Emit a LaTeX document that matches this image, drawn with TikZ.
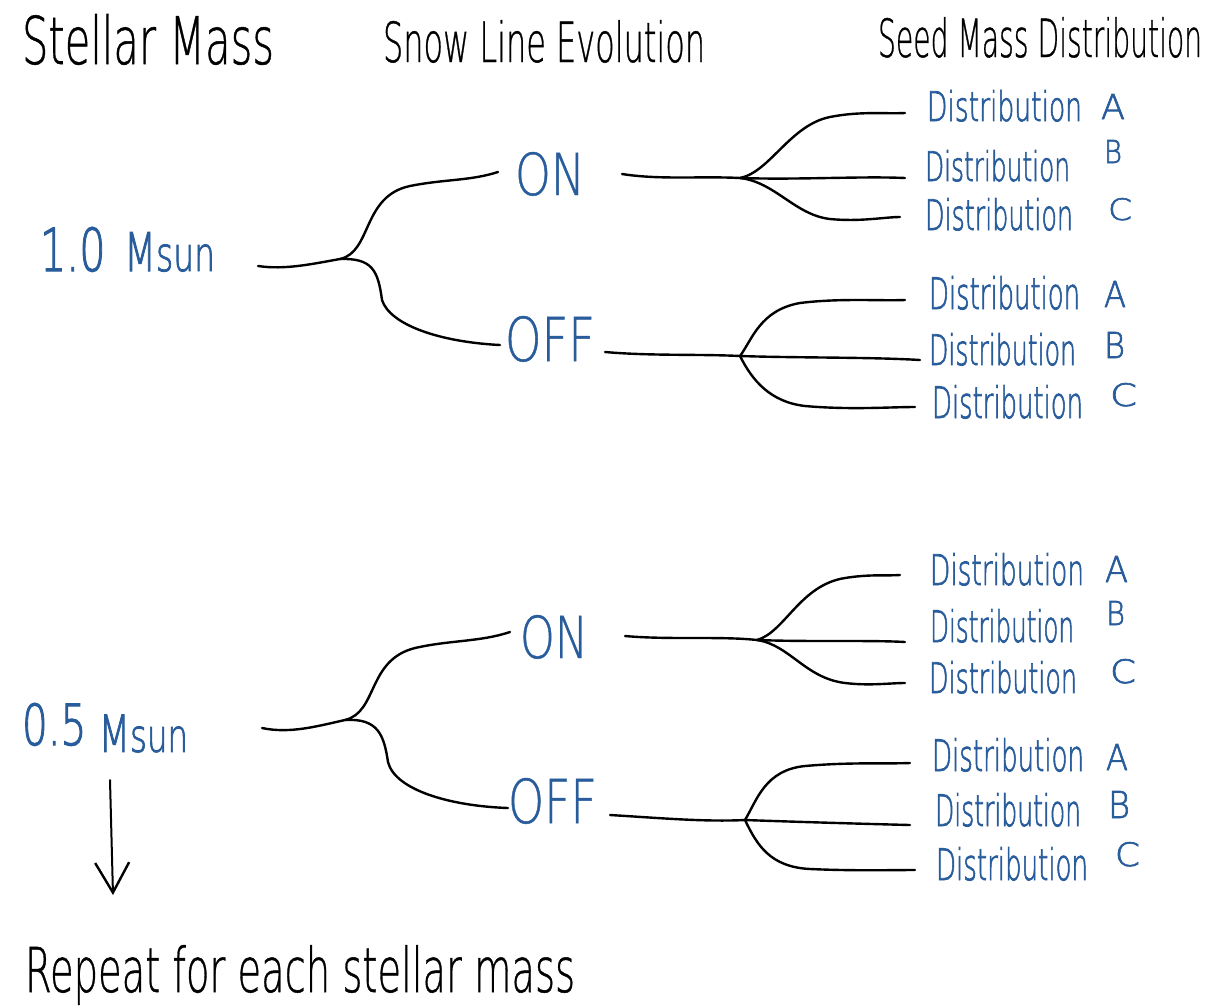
\documentclass[tikz,border=0pt]{standalone}
\usepackage{fontspec}
\usepackage{graphicx}
\usetikzlibrary{arrows.meta,calc}
\newfontfamily\hand{DejaVu Sans ExtraLight}[FakeBold=0.8]
\newfontfamily\handb{DejaVu Sans ExtraLight}[FakeBold=2]
\definecolor{inkblue}{RGB}{40,92,155}
% text squeezed into a given width and height (in pt) above its baseline
\newcommand\hw[3]{\resizebox{#1pt}{#2pt}{\hand #3}}
\newcommand\hb[3]{\resizebox{#1pt}{#2pt}{\handb #3}}

\begin{document}
\begin{tikzpicture}[x=1pt,y=-1pt,
  lbl/.style={inner sep=0pt, outer sep=0pt, anchor=base west},
  head/.style={lbl, text=black},
  opt/.style={lbl, text=inkblue},
  wire/.style={line width=2.4pt, line cap=round, line join=round, black}]
\useasboundingbox[fill=white] (0,0) rectangle (1218,1005);

% column headings
\node[head] (hmass) at (22,64)  {\hw{252}{50}{Stellar Mass}};
\node[head] (hsnow) at (383,62) {\hw{322}{42}{Snow Line Evolution}};
\node[head] (hseed) at (878,57) {\hw{324}{40}{Seed Mass Distribution}};

% stellar masses
\node[opt] (m1) at (40,271) {\hb{175}{44}{1.0\hspace{0.45em}{\small M}{\footnotesize sun}}};
\node[opt] (m2) at (22,745) {\hb{166}{42}{0.5\hspace{0.3em}\raisebox{-0.12em}{{\small M}{\footnotesize sun}}}};

% snow line switch
\node[opt] (on1)  at (515,195) {\hw{70}{43}{ON}};
\node[opt] (off1) at (505,361) {\hw{90}{45}{OFF}};
\node[opt] (on2)  at (520,658) {\hw{68}{43}{ON}};
\node[opt] (off2) at (508,823) {\hw{89}{45}{OFF}};

% seed mass distributions
\node[opt] (d1a) at (927,121) {\hb{155}{31}{Distribution}};
\node[opt] (d1b) at (925,181) {\hb{145}{31}{Distribution}};
\node[opt] (d1c) at (925,230) {\hb{148}{32}{Distribution}};
\node[opt] (d1d) at (929,309) {\hb{151}{33}{Distribution}};
\node[opt] (d1e) at (929,365) {\hb{147}{32}{Distribution}};
\node[opt] (d1f) at (932,418) {\hb{151}{33}{Distribution}};
\node[opt] (d2a) at (930,585) {\hb{154}{32}{Distribution}};
\node[opt] (d2b) at (930,642) {\hb{144}{33}{Distribution}};
\node[opt] (d2c) at (929,693) {\hb{148}{32}{Distribution}};
\node[opt] (d2d) at (932,771) {\hb{152}{33}{Distribution}};
\node[opt] (d2e) at (935,826) {\hb{146}{33}{Distribution}};
\node[opt] (d2f) at (936,880) {\hb{152}{33}{Distribution}};

\node[opt] (l1a) at (1101,119) {\hb{24}{25}{A}};
\node[opt] (l1b) at (1104,163) {\hb{18}{23}{B}};
\node[opt] (l1c) at (1108,220) {\hb{24}{22}{C}};
\node[opt] (l1d) at (1104,307) {\hb{22}{26}{A}};
\node[opt] (l1e) at (1104,358) {\hb{21}{26}{B}};
\node[opt] (l1f) at (1110,406) {\hb{27}{23}{C}};
\node[opt] (l2a) at (1105,582) {\hb{23}{26}{A}};
\node[opt] (l2b) at (1106,625) {\hb{19}{24}{B}};
\node[opt] (l2c) at (1110,683) {\hb{26}{24}{C}};
\node[opt] (l2d) at (1106,770) {\hb{22}{26}{A}};
\node[opt] (l2e) at (1108,818) {\hb{22}{27}{B}};
\node[opt] (l2f) at (1115,866) {\hb{25}{24}{C}};

% footnote
\node[head] (rep) at (25,992) {\hw{550}{47}{Repeat for each stellar mass}};

% branch points
\coordinate (j1)   at (340,259);
\coordinate (jon1) at (740,178);
\coordinate (jof1) at (740,356);
\coordinate (j2)   at (345,720);
\coordinate (jon2) at (757,640);
\coordinate (jof2) at (745,820);

% 1.0 Msun tree
\draw[wire] ($(m1.base east)+(43,-5)$) .. controls (285,270) and (312,264) .. (j1);
\draw[wire] (j1) .. controls (372,252) and (362,196) .. (410,186)
  .. controls (445,179) and (470,181) .. ($(on1.base west)+(-17,-23)$);
\draw[wire] (j1) .. controls (372,258) and (378,270) .. (382,300)
  .. controls (390,325) and (440,342) .. ($(off1.base west)+(-5,-16)$);

\draw[wire] ($(on1.base east)+(37,-21)$) .. controls (660,180) and (700,176) .. (jon1);
\draw[wire] (jon1) .. controls (800,180) and (860,176) .. ($(d1b.base west)+(-20,-3)$);
\draw[wire] (jon1) .. controls (770,172) and (790,125) .. (830,117)
  .. controls (860,111) and (885,114) .. ($(d1a.base west)+(-22,-8)$);
\draw[wire] (jon1) .. controls (775,182) and (795,215) .. (830,219)
  .. controls (860,222) and (885,217) .. ($(d1c.base west)+(-25,-13)$);

\draw[wire] ($(off1.base east)+(10,-9)$) .. controls (650,356) and (700,354) .. (jof1);
\draw[wire] (jof1) .. controls (800,358) and (870,357) .. ($(d1e.base west)+(-9,-5)$);
\draw[wire] (jof1) .. controls (752,340) and (760,310) .. (800,303)
  .. controls (840,298) and (880,301) .. ($(d1d.base west)+(-24,-9)$);
\draw[wire] (jof1) .. controls (752,380) and (770,402) .. (805,406)
  .. controls (850,410) and (890,407) .. ($(d1f.base west)+(-17,-11)$);

% 0.5 Msun tree
\draw[wire] ($(m2.base east)+(74,-17)$) .. controls (290,734) and (318,726) .. (j2);
\draw[wire] (j2) .. controls (378,712) and (367,660) .. (415,648)
  .. controls (450,640) and (480,642) .. ($(on2.base west)+(-10,-26)$);
\draw[wire] (j2) .. controls (378,718) and (384,735) .. (388,762)
  .. controls (395,790) and (450,806) .. ($(off2.base west)+(0,-15)$);

\draw[wire] ($(on2.base east)+(37,-22)$) .. controls (670,640) and (720,636) .. (jon2);
\draw[wire] (jon2) .. controls (810,642) and (870,640) .. ($(d2b.base west)+(-25,0)$);
\draw[wire] (jon2) .. controls (785,632) and (800,585) .. (845,578)
  .. controls (870,574) and (885,576) .. ($(d2a.base west)+(-30,-10)$);
\draw[wire] (jon2) .. controls (790,645) and (805,678) .. (845,683)
  .. controls (870,686) and (890,683) .. ($(d2c.base west)+(-24,-10)$);

\draw[wire] ($(off2.base east)+(13,-8)$) .. controls (660,818) and (705,822) .. (jof2);
\draw[wire] (jof2) .. controls (800,822) and (870,824) .. ($(d2e.base west)+(-25,-1)$);
\draw[wire] (jof2) .. controls (757,800) and (765,770) .. (805,766)
  .. controls (850,762) and (885,764) .. ($(d2d.base west)+(-22,-8)$);
\draw[wire] (jof2) .. controls (757,845) and (770,867) .. (810,869)
  .. controls (855,871) and (890,870) .. ($(d2f.base west)+(-21,-10)$);

% repeat arrow
\draw[wire, line width=2pt, -{Straight Barb[length=30pt,width=34pt,line width=2.4pt]}]
  ($(m2.base west)+(88,35)$) -- ($(rep.base west)+(88,-97)$);
\end{tikzpicture}
\end{document}
